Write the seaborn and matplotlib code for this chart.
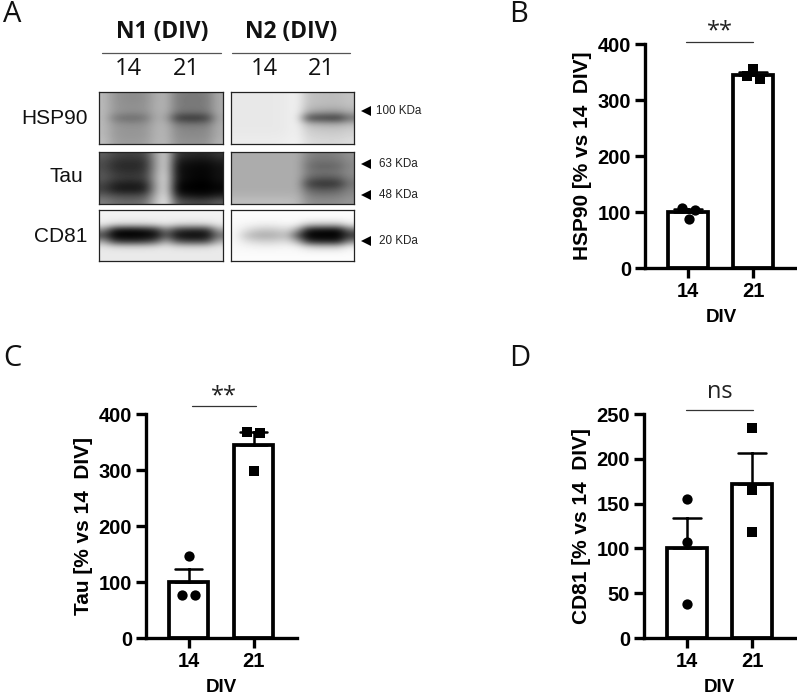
import numpy as np
import pandas as pd
import matplotlib
matplotlib.use("Agg")
import matplotlib.pyplot as plt
import seaborn as sns

W, H = 797, 697
div_labels = ["14", "21"]
hsp90_14 = [108, 104, 88]
hsp90_21 = [355, 342, 338]
tau_14 = [147, 76, 76]
tau_21 = [368, 366, 298]
cd81_14 = [155, 107, 38]
cd81_21 = [234, 165, 118]
# horizontal spread of the points around each bar, in bar-pitch units
hsp90_14_dx = [-0.09, 0.11, 0.01]
hsp90_21_dx = [0.0, -0.10, 0.10]
tau_14_dx = [0.0, -0.10, 0.10]
tau_21_dx = [-0.10, 0.10, 0.0]
cd81_14_dx = [0.0, 0.0, 0.0]
cd81_21_dx = [0.0, 0.0, 0.0]

n1_hsp90 = [
 [185,150,142,140,145,172,178,128,122,122,126,170],
 [185,150,142,140,145,172,178,125,120,120,124,170],
 [185,152,145,145,148,175,178,128,122,122,126,170],
 [185,150,142,140,144,172,175,118,112,112,118,170],
 [185,122,108,108,118,172,165,62,50,50,65,165],
 [185,150,142,140,145,175,178,122,115,115,120,170],
 [185,155,150,150,152,178,180,140,135,135,138,172],
 [185,155,150,150,152,178,180,142,138,138,140,172],
 [190,160,155,155,158,180,182,148,145,145,148,178],
]
n2_hsp90 = [
 [232,232,232,232,232,235,240,195,190,188,188,195],
 [232,232,232,232,232,235,240,195,190,188,188,195],
 [232,232,232,232,232,235,240,190,185,182,182,190],
 [232,232,232,232,232,235,240,170,155,150,150,170],
 [232,232,232,232,232,235,238,75,60,55,50,110],
 [232,232,232,232,232,235,240,182,172,168,168,182],
 [232,232,232,232,232,235,240,205,200,198,198,205],
 [234,234,234,234,234,236,240,212,208,206,206,212],
 [236,236,236,236,236,238,242,220,216,215,215,220],
]
n1_tau = [
 [95,72,65,65,72,160,210,55,45,40,40,55],
 [80,55,48,48,55,155,215,35,22,18,18,32],
 [75,45,40,40,50,155,215,22,12,8,8,20],
 [82,58,50,50,60,160,220,22,10,6,6,18],
 [88,65,58,58,66,165,225,25,10,5,5,18],
 [70,38,30,30,40,160,225,14,4,0,0,10],
 [62,28,22,22,32,160,225,8,0,0,0,5],
 [95,78,72,72,82,175,230,40,22,15,15,30],
 [125,110,105,105,115,190,235,90,75,70,72,90],
]
n2_tau = [
 [172,172,172,172,172,172,172,135,125,125,130,145],
 [172,172,172,172,172,172,172,125,115,115,120,140],
 [172,172,172,172,172,172,172,115,100,100,105,135],
 [172,172,172,172,172,172,172,125,115,115,120,140],
 [172,172,172,172,172,172,172,105,90,88,95,130],
 [172,172,172,172,172,172,172,68,50,48,55,115],
 [172,172,172,172,172,172,172,105,90,90,98,130],
 [178,178,178,178,178,178,178,130,120,120,125,140],
 [190,190,190,190,190,190,185,145,140,140,142,150],
]
n1_cd81 = [
 [242,242,242,242,242,242,242,242,242,242,242,242],
 [240,240,240,240,240,240,240,240,240,240,240,240],
 [232,215,212,212,212,220,228,215,212,212,215,232],
 [140,25,12,12,22,45,130,60,45,42,48,165],
 [70,0,0,0,2,12,90,18,8,8,14,110],
 [160,60,45,45,55,85,170,85,65,62,72,170],
 [228,218,215,215,215,222,228,218,215,215,218,230],
 [234,234,234,234,234,234,234,234,234,234,234,234],
 [234,234,234,234,234,234,234,234,234,234,234,234],
]
n2_cd81 = [
 [252,252,252,252,252,252,252,252,252,252,252,252],
 [250,250,250,250,250,250,250,250,250,250,250,250],
 [248,245,240,238,240,245,240,205,198,198,198,232],
 [246,225,205,200,205,215,165,30,15,12,12,110],
 [245,195,175,170,178,190,80,0,0,0,0,50],
 [246,225,212,208,212,218,175,50,30,28,28,130],
 [248,245,242,240,242,245,240,215,205,205,205,238],
 [250,250,250,250,250,250,250,248,248,248,248,250],
 [252,252,252,252,252,252,252,252,252,252,252,252],
]
blot_rows = ["HSP90", "Tau", "CD81"]
mw_labels = ["100 KDa", "63 KDa", "48 KDa", "20 KDa"]

sns.set_theme(style="ticks", rc={"font.family": ["Liberation Sans", "DejaVu Sans"]})
fig = plt.figure(figsize=(W / 100, H / 100), dpi=100, facecolor="white")


def box(x0, y0, x1, y1):
    return fig.add_axes([x0 / W, 1 - y1 / H, (x1 - x0) / W, (y1 - y0) / H])


def sem_upper(v):
    v = np.asarray(v, float)
    return v.mean(), v.mean() + v.std(ddof=1) / np.sqrt(len(v))


def bar_panel(rect, a, b, dxa, dxb, ylabel, ymax, step, center0, pitch, bar_w=0.61):
    ax = box(*rect)
    df = pd.DataFrame({"DIV": [div_labels[0]] * len(a) + [div_labels[1]] * len(b),
                       "value": list(a) + list(b)})
    sns.barplot(data=df, x="DIV", y="value", order=div_labels, width=bar_w, ax=ax,
                color="white", fill=True, edgecolor="black", linewidth=2.7,
                errorbar=sem_upper, capsize=0.42, err_kws={"color": "black", "linewidth": 1.8})
    for patch in ax.patches:
        patch.set_facecolor("white")
    for i, (vals, dx, mark) in enumerate([(a, dxa, "o"), (b, dxb, "s")]):
        sns.scatterplot(x=[i + d for d in dx], y=vals, ax=ax, color="black", marker=mark,
                        s=55, linewidth=0, zorder=5, legend=False)
    ax.set_xlim(-(center0 - rect[0]) / pitch, (rect[2] - center0) / pitch)
    ax.set_ylim(0, ymax)
    ax.set_yticks(np.arange(0, ymax + 1, step))
    ax.set_xticks([0, 1], div_labels)
    sns.despine(ax=ax)
    for s in ("left", "bottom"):
        ax.spines[s].set_linewidth(2.4)
        ax.spines[s].set_color("black")
    ax.tick_params(axis="both", length=7, width=2.4, pad=3, color="black", labelcolor="black")
    for t in ax.get_xticklabels() + ax.get_yticklabels():
        t.set_fontweight("bold")
        t.set_fontsize(14.5)
    ax.set_xlabel("DIV", fontweight="bold", fontsize=13.5, color="black", labelpad=6)
    ax.set_ylabel(ylabel, fontweight="bold", fontsize=15, color="black", labelpad=4)
    ax.patch.set_alpha(0)
    return ax


bar_panel((645, 44, 797, 268), hsp90_14, hsp90_21, hsp90_14_dx, hsp90_21_dx, "HSP90 [% vs 14  DIV]", 400, 100, 688, 65)
bar_panel((146, 414, 297, 638), tau_14, tau_21, tau_14_dx, tau_21_dx, "Tau [% vs 14  DIV]", 400, 100, 188.5, 65)
bar_panel((644, 414, 795, 638), cd81_14, cd81_21, cd81_14_dx, cd81_21_dx, "CD81 [% vs 14  DIV]", 250, 50, 687, 65)

grids = [[n1_hsp90, n2_hsp90], [n1_tau, n2_tau], [n1_cd81, n2_cd81]]
rows_px = [(92, 144), (152, 204), (210, 261)]
cols_px = [(99, 223), (231, 354)]
for (y0, y1), pair in zip(rows_px, grids):
    for (x0, x1), g in zip(cols_px, pair):
        ax = box(x0, y0, x1, y1)
        ax.imshow(np.array(g), cmap="gray", vmin=0, vmax=255, aspect="auto", interpolation="bicubic")
        ax.set_xticks([])
        ax.set_yticks([])
        for s in ax.spines.values():
            s.set_linewidth(0.9)
            s.set_color("#222222")

# annotation layer in pixel coordinates
ov = fig.add_axes([0, 0, 1, 1], zorder=20)
ov.set_xlim(0, W)
ov.set_ylim(H, 0)
ov.axis("off")
calibri = ["Open Sans", "DejaVu Sans"]
for s, x, y in [("A", 12, 14), ("B", 519, 14), ("C", 12, 359), ("D", 520, 359)]:
    ov.text(x, y, s, fontsize=21, family=calibri, ha="center", va="center", color="#111111")
for s, x in [("N1 (DIV)", 162), ("N2 (DIV)", 291)]:
    ov.text(x, 32, s, fontsize=16.5, family=calibri, fontweight="bold", ha="center", va="center", color="#111111")
for x0, x1 in [(102, 221), (232, 350)]:
    ov.plot([x0, x1], [52.7, 52.7], color="#555555", lw=0.9)
for s, x in zip(div_labels * 2, [128, 186, 264, 321]):
    ov.text(x, 69, s, fontsize=17, family=calibri, ha="center", va="center", color="#111111")
for s, x, y in zip(blot_rows, [88, 83, 87], [118, 176, 237]):
    ov.text(x, y, s, fontsize=15, ha="right", va="center", color="#111111")
for s, x, y in zip(mw_labels, [376, 379, 379, 379], [111, 164, 195, 241]):
    ov.text(x, y, s, fontsize=8.4, ha="left", va="center", color="#222222")
    ov.plot([366], [y], marker="<", color="black", ms=6.5, mew=0, ls="none")
for s, x0, x1, yl, yt in [("**", 686, 753, 42, 31), ("**", 192, 256, 406, 396), ("ns", 686, 753, 410, 392)]:
    ov.plot([x0, x1], [yl, yl], color="#333333", lw=0.9)
    ov.text((x0 + x1) / 2, yt, s, fontsize=17, family=calibri, ha="center", va="center", color="#222222")

fig.savefig("out.png", dpi=100, facecolor="white")
